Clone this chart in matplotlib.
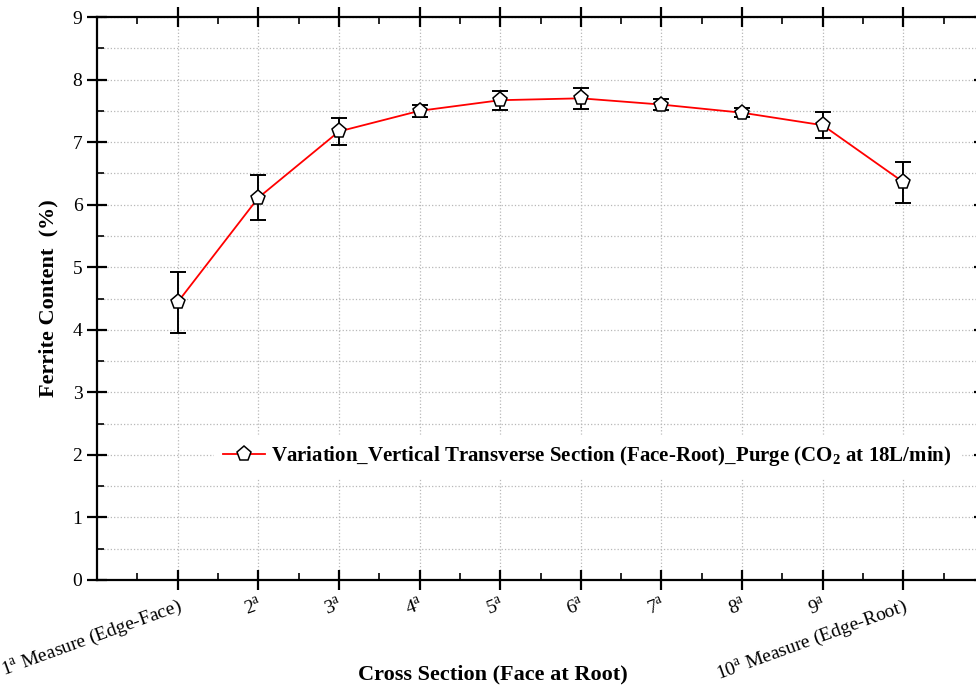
import matplotlib
matplotlib.use('Agg')
import matplotlib.pyplot as plt
from matplotlib.ticker import MultipleLocator

plt.rcParams['font.family'] = ['Liberation Serif', 'DejaVu Serif']
plt.rcParams['mathtext.fontset'] = 'custom'
plt.rcParams['mathtext.rm'] = 'Liberation Serif'
plt.rcParams['mathtext.bf'] = 'Liberation Serif:bold'

# data
positions = [1, 2, 3, 4, 5, 6, 7, 8, 9, 10]
ferrite = [4.44, 6.11, 7.17, 7.50, 7.67, 7.70, 7.60, 7.47, 7.27, 6.36]
ferrite_err = [0.49, 0.36, 0.21, 0.10, 0.15, 0.17, 0.09, 0.07, 0.21, 0.33]
tick_labels = ['1$^\\mathrm{a}$ Measure (Edge-Face)', '2$^\\mathrm{a}$', '3$^\\mathrm{a}$',
               '4$^\\mathrm{a}$', '5$^\\mathrm{a}$', '6$^\\mathrm{a}$', '7$^\\mathrm{a}$',
               '8$^\\mathrm{a}$', '9$^\\mathrm{a}$', '10$^\\mathrm{a}$ Measure (Edge-Root)']
series_name = 'Variation_Vertical Transverse Section (Face-Root)_Purge (CO$_\\mathbf{2}$ at 18L/min)'

fig = plt.figure(figsize=(9.76, 6.86), dpi=100)
ax = fig.add_axes([97 / 976, 106 / 686, 887 / 976, 563 / 686])

ax.errorbar(positions, ferrite, yerr=ferrite_err, fmt='none', ecolor='black',
            elinewidth=1.4, capsize=6, capthick=1.4, zorder=3)
line, = ax.plot(positions, ferrite, color='red', lw=1.3, marker='p', ms=11,
                mfc='white', mec='black', mew=1.1, zorder=4)

ax.set_xlim(0, 11)
ax.set_ylim(0, 9)
ax.set_xticks(positions)
ax.set_xticklabels(tick_labels, rotation=20, ha='right', rotation_mode='anchor', fontsize=12.5)
ax.xaxis.set_minor_locator(MultipleLocator(0.5))
ax.yaxis.set_major_locator(MultipleLocator(1))
ax.yaxis.set_minor_locator(MultipleLocator(0.5))

for s in ax.spines.values():
    s.set_linewidth(1.6)
ax.tick_params(axis='both', which='major', direction='inout', length=14, width=1.6,
               labelsize=14, top=True, right=True)
ax.tick_params(axis='both', which='minor', direction='in', length=5, width=1.2,
               top=True, right=True)
ax.tick_params(axis='x', which='major', pad=4)

ax.grid(True, which='major', axis='x', color='#b8b8b8', ls=':', lw=0.9)
ax.grid(True, which='both', axis='y', color='#b8b8b8', ls=':', lw=0.9)
ax.set_axisbelow(True)

ax.set_xlabel('Cross Section (Face at Root)', fontsize=16, fontweight='bold')
ax.xaxis.set_label_coords(0.446, -0.15)
ax.set_ylabel('Ferrite Content  (%)', fontsize=16, fontweight='bold', labelpad=10)

leg = ax.legend(handles=[line], labels=[series_name], loc='center left',
                bbox_to_anchor=(0.12, 0.22), frameon=True, fancybox=False,
                prop={'weight': 'bold', 'size': 15}, handlelength=2.0,
                handletextpad=0.3, borderpad=0.45)
leg.get_frame().set_edgecolor('white')
leg.get_frame().set_facecolor('white')
leg.get_frame().set_alpha(1)

fig.savefig('out.png', dpi=100)
